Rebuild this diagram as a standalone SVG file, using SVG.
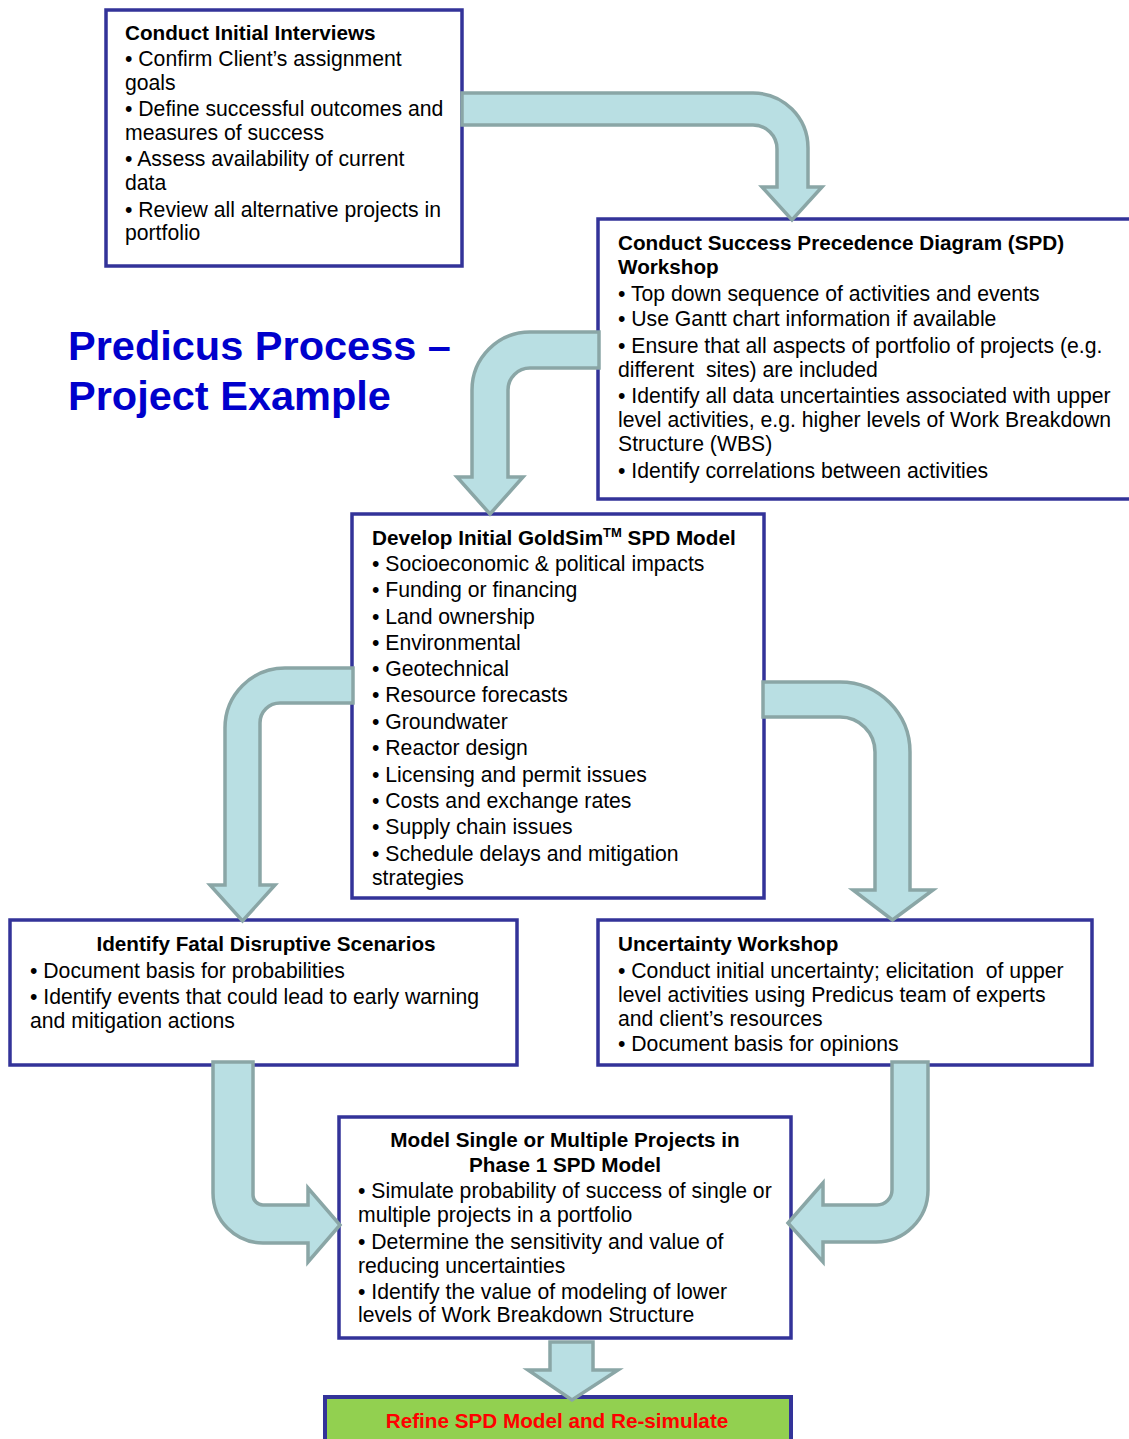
<svg xmlns="http://www.w3.org/2000/svg" width="1129" height="1439" viewBox="0 0 1129 1439">
<style>
.box{fill:#ffffff;stroke:#333399;stroke-width:3.5}
.arr{fill:#B9DFE3;stroke:#8AA6A6;stroke-width:3.5;stroke-linejoin:miter}
text{font-family:"Liberation Sans",Arial,sans-serif;font-size:21.2px;fill:#000}
.b{font-weight:bold;font-size:20.7px}
.ttl{font-size:41.5px;font-weight:bold;fill:#0000CC}
.red{fill:#FF0000;font-weight:bold;font-size:20.7px}
</style>
<rect width="1129" height="1439" fill="#ffffff"/>
<g id="title">
<text class="ttl" x="68" y="360">Predicus Process –</text>
<text class="ttl" x="68" y="410">Project Example</text>
</g>
<g id="n1">
<rect class="box" x="106" y="10" width="356" height="256"/>
<text class="b" x="125" y="40">Conduct Initial Interviews</text>
<text x="125" y="66">• Confirm Client’s assignment</text>
<text x="125" y="90">goals</text>
<text x="125" y="116">• Define successful outcomes and</text>
<text x="125" y="140">measures of success</text>
<text x="125" y="166">• Assess availability of current</text>
<text x="125" y="190">data</text>
<text x="125" y="217">• Review all alternative projects in</text>
<text x="125" y="240">portfolio</text>
</g>
<g id="n2">
<rect class="box" x="598" y="219" width="540" height="280"/>
<text class="b" x="618" y="250">Conduct Success Precedence Diagram (SPD)</text>
<text class="b" x="618" y="274">Workshop</text>
<text x="618" y="301">• Top down sequence of activities and events</text>
<text x="618" y="326">• Use Gantt chart information if available</text>
<text x="618" y="353">• Ensure that all aspects of portfolio of projects (e.g.</text>
<text x="618" y="377" xml:space="preserve">different  sites) are included</text>
<text x="618" y="403">• Identify all data uncertainties associated with upper</text>
<text x="618" y="427">level activities, e.g. higher levels of Work Breakdown</text>
<text x="618" y="451">Structure (WBS)</text>
<text x="618" y="478">• Identify correlations between activities</text>
</g>
<g id="n3">
<rect class="box" x="352" y="514" width="412" height="384"/>
<text class="b" x="372" y="545">Develop Initial GoldSim<tspan font-size="13" dy="-8">TM</tspan><tspan dy="8"> SPD Model</tspan></text>
<text x="372" y="571">• Socioeconomic &amp; political impacts</text>
<text x="372" y="597">• Funding or financing</text>
<text x="372" y="624">• Land ownership</text>
<text x="372" y="650">• Environmental</text>
<text x="372" y="676">• Geotechnical</text>
<text x="372" y="702">• Resource forecasts</text>
<text x="372" y="729">• Groundwater</text>
<text x="372" y="755">• Reactor design</text>
<text x="372" y="782">• Licensing and permit issues</text>
<text x="372" y="808">• Costs and exchange rates</text>
<text x="372" y="834">• Supply chain issues</text>
<text x="372" y="861">• Schedule delays and mitigation</text>
<text x="372" y="885">strategies</text>
</g>
<g id="n4">
<rect class="box" x="10" y="920" width="507" height="145"/>
<text class="b" x="266" y="951" text-anchor="middle">Identify Fatal Disruptive Scenarios</text>
<text x="30" y="978">• Document basis for probabilities</text>
<text x="30" y="1004">• Identify events that could lead to early warning</text>
<text x="30" y="1028">and mitigation actions</text>
</g>
<g id="n5">
<rect class="box" x="598" y="920" width="494" height="145"/>
<text class="b" x="618" y="951">Uncertainty Workshop</text>
<text x="618" y="978" xml:space="preserve">• Conduct initial uncertainty; elicitation  of upper</text>
<text x="618" y="1002">level activities using Predicus team of experts</text>
<text x="618" y="1026">and client’s resources</text>
<text x="618" y="1051">• Document basis for opinions</text>
</g>
<g id="n6">
<rect class="box" x="339" y="1117" width="452" height="221"/>
<text class="b" x="565" y="1147" text-anchor="middle">Model Single or Multiple Projects in</text>
<text class="b" x="565" y="1172" text-anchor="middle">Phase 1 SPD Model</text>
<text x="358" y="1198">• Simulate probability of success of single or</text>
<text x="358" y="1222">multiple projects in a portfolio</text>
<text x="358" y="1249">• Determine the sensitivity and value of</text>
<text x="358" y="1273">reducing uncertainties</text>
<text x="358" y="1299">• Identify the value of modeling of lower</text>
<text x="358" y="1322">levels of Work Breakdown Structure</text>
</g>
<g id="n7">
<rect x="325" y="1397" width="466" height="46" fill="#92D050" stroke="#333399" stroke-width="4"/>
<text class="red" x="557" y="1428" text-anchor="middle">Refine SPD Model and Re-simulate</text>
</g>
<g id="connectors">
<path class="arr" d="M462,93 H753 A55,55 0 0 1 808,148 V187 H822 L792,220 L762,187 H777 V149 A24,24 0 0 0 753,125 H462 Z"/>
<path class="arr" d="M599,332 H530 A58,58 0 0 0 472,390 V477 H457 L490,514 L523,477 H508 V390 A22,22 0 0 1 530,368 H599 Z"/>
<path class="arr" d="M353,668 H285 A60,60 0 0 0 225,728 V885 H210 L242.5,921 L275,885 H260 V723 A20,20 0 0 1 280,703 H353 Z"/>
<path class="arr" d="M763,682 H840 A70,70 0 0 1 910,752 V890 H933 L892.5,920 L853,890 H875 V752 A35,35 0 0 0 840,717 H763 Z"/>
<path class="arr" d="M213,1062 V1193 A50,50 0 0 0 263,1243 H308 V1262 L340,1225 L308,1188 V1205 H263 A10,10 0 0 1 253,1195 V1062 Z"/>
<path class="arr" d="M928,1062 V1190 A52,52 0 0 1 876,1242 H823 V1262 L788,1223 L823,1183 V1205 H877 A15,15 0 0 0 892,1190 V1062 Z"/>
<path class="arr" d="M550,1342 H593 V1370 H618 L572,1400 L528,1370 H550 Z"/>
</g>
</svg>
